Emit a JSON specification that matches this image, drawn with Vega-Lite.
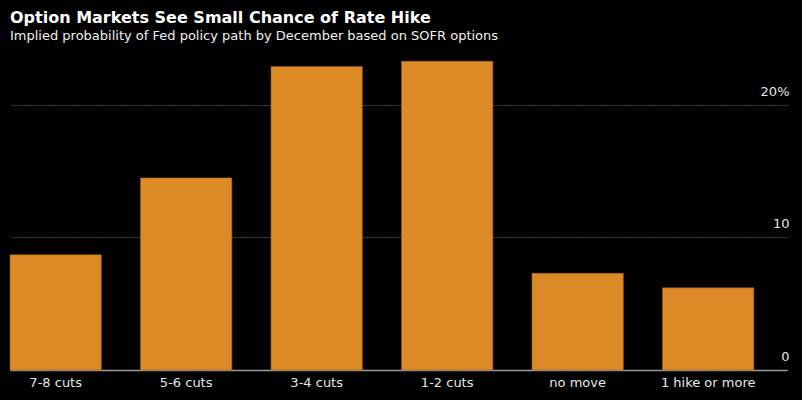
{
  "$schema": "https://vega.github.io/schema/vega-lite/v6.json",
  "width": 777,
  "height": 318,
  "autosize": "none",
  "padding": {"left": 10, "top": 52, "right": 15, "bottom": 30},
  "background": "#000000",
  "title": {
    "text": "Option Markets See Small Chance of Rate Hike",
    "subtitle": "Implied probability of Fed policy path by December based on SOFR options",
    "anchor": "start",
    "frame": "group",
    "font": "DejaVu Sans",
    "fontSize": 16,
    "fontWeight": "bold",
    "color": "#FFFFFF",
    "subtitleFont": "DejaVu Sans",
    "subtitleFontSize": 13,
    "subtitleColor": "#F0F0F0",
    "subtitlePadding": 4,
    "offset": 9
  },
  "data": {
    "values": [
      {"path": "7-8 cuts", "prob": 8.7},
      {"path": "5-6 cuts", "prob": 14.5},
      {"path": "3-4 cuts", "prob": 22.9},
      {"path": "1-2 cuts", "prob": 23.3},
      {"path": "no move", "prob": 7.3},
      {"path": "1 hike or more", "prob": 6.2}
    ]
  },
  "mark": {"type": "bar", "color": "#DC8A26", "stroke": "#9A5E1C", "strokeWidth": 0.6},
  "encoding": {
    "x": {
      "field": "path",
      "type": "nominal",
      "sort": null,
      "scale": {"paddingInner": 0.3, "paddingOuter": 0.127, "align": 0},
      "axis": {
        "title": null,
        "labelAngle": 0,
        "labelFont": "DejaVu Sans",
        "labelFontSize": 13,
        "labelColor": "#E6E6E6",
        "labelPadding": 6,
        "ticks": false,
        "domainColor": "#9A9A9A",
        "domainWidth": 1.5
      }
    },
    "y": {
      "field": "prob",
      "type": "quantitative",
      "scale": {"domain": [0, 24], "nice": false},
      "axis": {
        "title": null,
        "orient": "right",
        "values": [0, 10, 20],
        "domain": false,
        "ticks": false,
        "grid": true,
        "gridColor": "#8A8A8A",
        "gridDash": [1, 2],
        "gridWidth": 1,
        "labelExpr": "datum.value == 20 ? '20%' : datum.label",
        "labelAlign": "right",
        "labelBaseline": "bottom",
        "labelOffset": -7,
        "labelPadding": 2,
        "labelFont": "DejaVu Sans",
        "labelFontSize": 13,
        "labelColor": "#E6E6E6",
        "encode": {
          "labels": {
            "update": {
              "dx": {"signal": "datum.value == 20 ? 8 : 0"}
            }
          }
        }
      }
    }
  },
  "config": {"view": {"stroke": null}}
}
